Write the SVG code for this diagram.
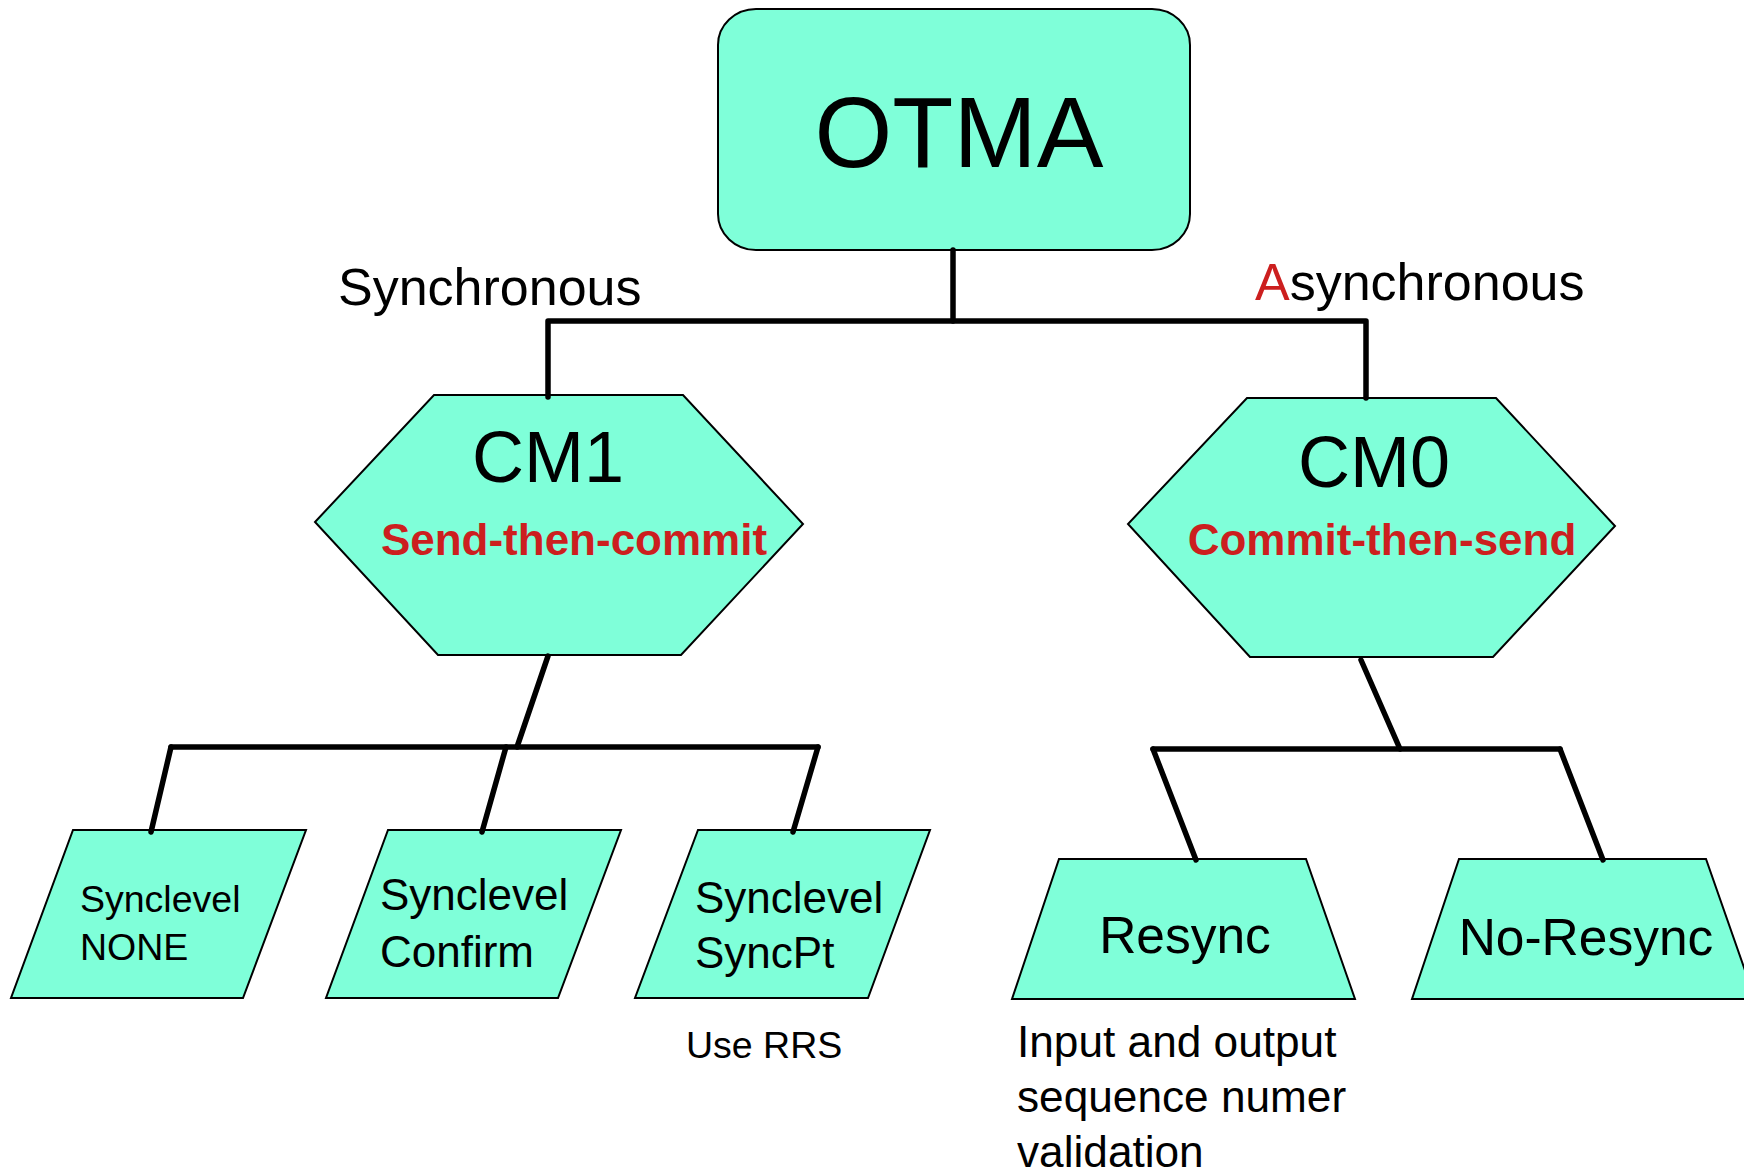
<svg xmlns="http://www.w3.org/2000/svg" width="1744" height="1173" viewBox="0 0 1744 1173">
<style>
.shape{fill:#7fffd9;stroke:#000;stroke-width:2;stroke-linejoin:miter}
.t{font-family:"Liberation Sans",Arial,sans-serif;fill:#000}
.red{fill:#cc1f1f}
.b{font-weight:bold}
.conn{fill:none;stroke:#000;stroke-width:5.5;stroke-linecap:round;stroke-linejoin:round}
</style>
<rect x="0" y="0" width="1744" height="1173" fill="#fff"/>

<g id="node-otma">
<rect class="shape" x="718" y="9" width="472" height="241" rx="38" ry="36"/>
<text class="t" x="959" y="167" font-size="100" text-anchor="middle">OTMA</text>
</g>

<g id="label-sync">
<text class="t" x="338" y="305" font-size="52">Synchronous</text>
</g>
<g id="label-async">
<text class="t" x="1255" y="300" font-size="52"><tspan class="red">A</tspan>synchronous</text>
</g>

<g id="node-cm1">
<polygon class="shape" points="434,395 683,395 803,524 681,655 438,655 315,522"/>
<text class="t" x="548" y="482" font-size="72" text-anchor="middle">CM1</text>
<text class="t red b" x="574" y="555" font-size="44" text-anchor="middle">Send-then-commit</text>
</g>

<g id="node-cm0">
<polygon class="shape" points="1247,398 1496,398 1615,526 1493,657 1250,657 1128,524"/>
<text class="t" x="1374" y="487" font-size="72" text-anchor="middle">CM0</text>
<text class="t red b" x="1382" y="555" font-size="44" text-anchor="middle">Commit-then-send</text>
</g>

<g id="node-none">
<polygon class="shape" points="73,830 306,830 243,998 11,998"/>
<text class="t" font-size="37.5"><tspan x="80" y="912">Synclevel</tspan><tspan x="80" y="960">NONE</tspan></text>
</g>

<g id="node-confirm">
<polygon class="shape" points="388,830 621,830 558,998 326,998"/>
<text class="t" font-size="44"><tspan x="380" y="910">Synclevel</tspan><tspan x="380" y="967">Confirm</tspan></text>
</g>

<g id="node-syncpt">
<polygon class="shape" points="698,830 930,830 868,998 635,998"/>
<text class="t" font-size="44"><tspan x="695" y="913">Synclevel</tspan><tspan x="695" y="968">SyncPt</tspan></text>
</g>
<g id="label-rrs">
<text class="t" x="686" y="1058" font-size="37.5">Use RRS</text>
</g>

<g id="node-resync">
<polygon class="shape" points="1059,859 1306,859 1355,999 1012,999"/>
<text class="t" x="1185" y="953" font-size="51.5" text-anchor="middle">Resync</text>
</g>
<g id="label-resync-note">
<text class="t" font-size="44.2"><tspan x="1017" y="1057">Input and output</tspan><tspan x="1017" y="1112">sequence numer</tspan><tspan x="1017" y="1167">validation</tspan></text>
</g>

<g id="node-noresync">
<polygon class="shape" points="1459,859 1706,859 1755,999 1412,999"/>
<text class="t" x="1586" y="955" font-size="51.5" text-anchor="middle">No-Resync</text>
</g>

<g id="connectors">
<path class="conn" d="M953,250 V321"/>
<path class="conn" d="M548,397 V321 H1366 V398"/>
<path class="conn" d="M548,656 L517,747"/>
<path class="conn" d="M171,747 H818"/>
<path class="conn" d="M171,747 L151,832"/>
<path class="conn" d="M506,747 L482,832"/>
<path class="conn" d="M818,747 L793,832"/>
<path class="conn" d="M1361,660 L1400,749"/>
<path class="conn" d="M1153,749 H1560"/>
<path class="conn" d="M1153,749 L1196,860"/>
<path class="conn" d="M1560,749 L1603,860"/>
</g>
</svg>
